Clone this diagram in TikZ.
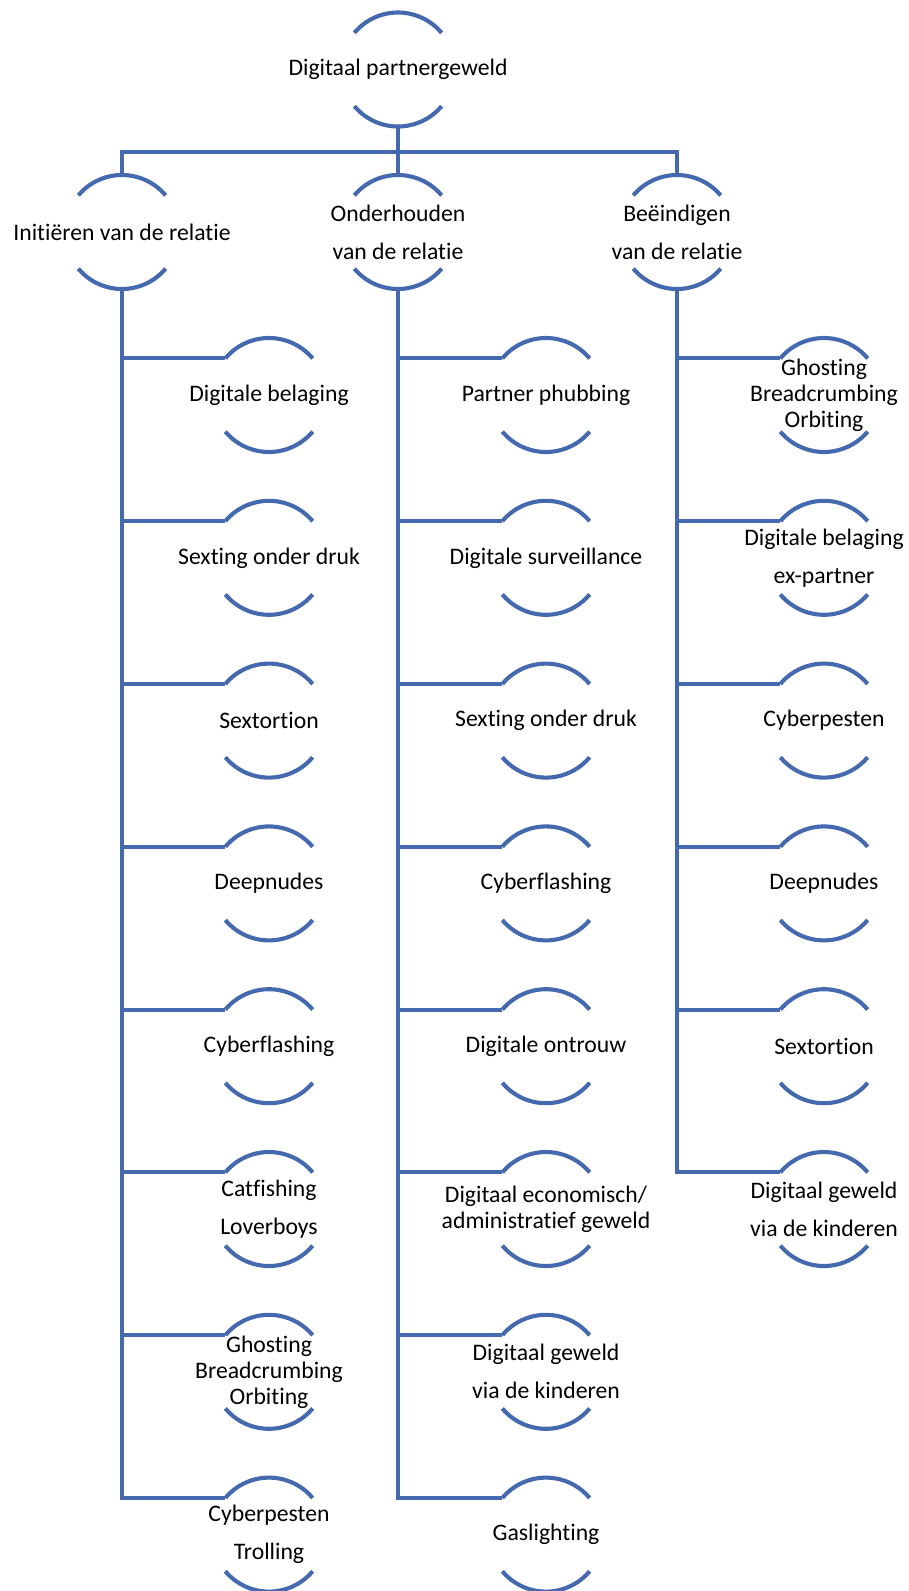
\documentclass[tikz,border=0pt]{standalone}
\usepackage{fontspec}
\setmainfont{Carlito}[Ligatures=NoCommon]
\usetikzlibrary{calc}
\definecolor{lineblue}{RGB}{68,105,175}
\tikzset{
  ln/.style={draw=lineblue,line width=4.1pt},
  txt/.style={inner sep=0pt,outer sep=0pt,align=center,text=black,
    font=\fontsize{23.7}{26}\selectfont}
}
\newcommand\arcnode[4]{%
  \node[txt] (#1) at (#2,-#3) {#4};
  \coordinate (#1-t) at ($(#1.center)+(0,57pt)$);
  \coordinate (#1-b) at ($(#1.center)+(0,-57pt)$);
  \coordinate (#1-l) at ($(#1.center)+(140:57pt)$);
  \coordinate (#1-bl) at ($(#1.center)+(220:57pt)$);
  \draw[ln] (#1-l) arc[start angle=140,end angle=40,radius=57pt];
  \draw[ln] (#1-bl) arc[start angle=220,end angle=320,radius=57pt];
}
\begin{document}
\begin{tikzpicture}[x=1pt,y=1pt]
\useasboundingbox (0,0) rectangle (909,-1591);
% top
\arcnode{top}{398}{69.5}{Digitaal partnergeweld}
% level 1
\arcnode{La}{122}{232}{Initiëren van de relatie}
\arcnode{Lb}{398}{232}{Onderhouden\\[12pt]van de relatie}
\arcnode{Lc}{677}{232}{Beëindigen\\[12pt]van de relatie}
\draw[ln] (top-b) -- (Lb-t);
\draw[ln] (La-t) -- ++(0,23) -| (Lc-t);
% left column
\arcnode{a1}{269}{395}{Digitale belaging}
\arcnode{a2}{269}{557.8}{Sexting onder druk}
\arcnode{a3}{269}{720.6}{Sextortion}
\arcnode{a4}{269}{883.4}{Deepnudes}
\arcnode{a5}{269}{1046.2}{Cyberflashing}
\arcnode{a6}{269}{1209}{Catfishing\\[12pt]Loverboys}
\arcnode{a7}{269}{1371.8}{Ghosting\\Breadcrumbing\\Orbiting}
\arcnode{a8}{269}{1534.6}{Cyberpesten\\[12pt]Trolling}
% middle column
\arcnode{b1}{546}{395}{Partner phubbing}
\arcnode{b2}{546}{557.8}{Digitale surveillance}
\arcnode{b3}{546}{720.6}{Sexting onder druk}
\arcnode{b4}{546}{883.4}{Cyberflashing}
\arcnode{b5}{546}{1046.2}{Digitale ontrouw}
\arcnode{b6}{546}{1209}{Digitaal economisch/\\administratief geweld}
\arcnode{b7}{546}{1371.8}{Digitaal geweld\\[12pt]via de kinderen}
\arcnode{b8}{546}{1534.6}{Gaslighting}
% right column
\arcnode{c1}{824}{395}{Ghosting\\Breadcrumbing\\Orbiting}
\arcnode{c2}{824}{557.8}{Digitale belaging\\[12pt]ex-partner}
\arcnode{c3}{824}{720.6}{Cyberpesten}
\arcnode{c4}{824}{883.4}{Deepnudes}
\arcnode{c5}{824}{1046.2}{Sextortion}
\arcnode{c6}{824}{1209}{Digitaal geweld\\[12pt]via de kinderen}
% connectors
\draw[ln] (La-b) |- (a8-l);
\foreach \i in {1,...,7}{\draw[ln] (La-b |- a\i-l) -- (a\i-l);}
\draw[ln] (Lb-b) |- (b8-l);
\foreach \i in {1,...,7}{\draw[ln] (Lb-b |- b\i-l) -- (b\i-l);}
\draw[ln] (Lc-b) |- (c6-l);
\foreach \i in {1,...,5}{\draw[ln] (Lc-b |- c\i-l) -- (c\i-l);}
\end{tikzpicture}
\end{document}
